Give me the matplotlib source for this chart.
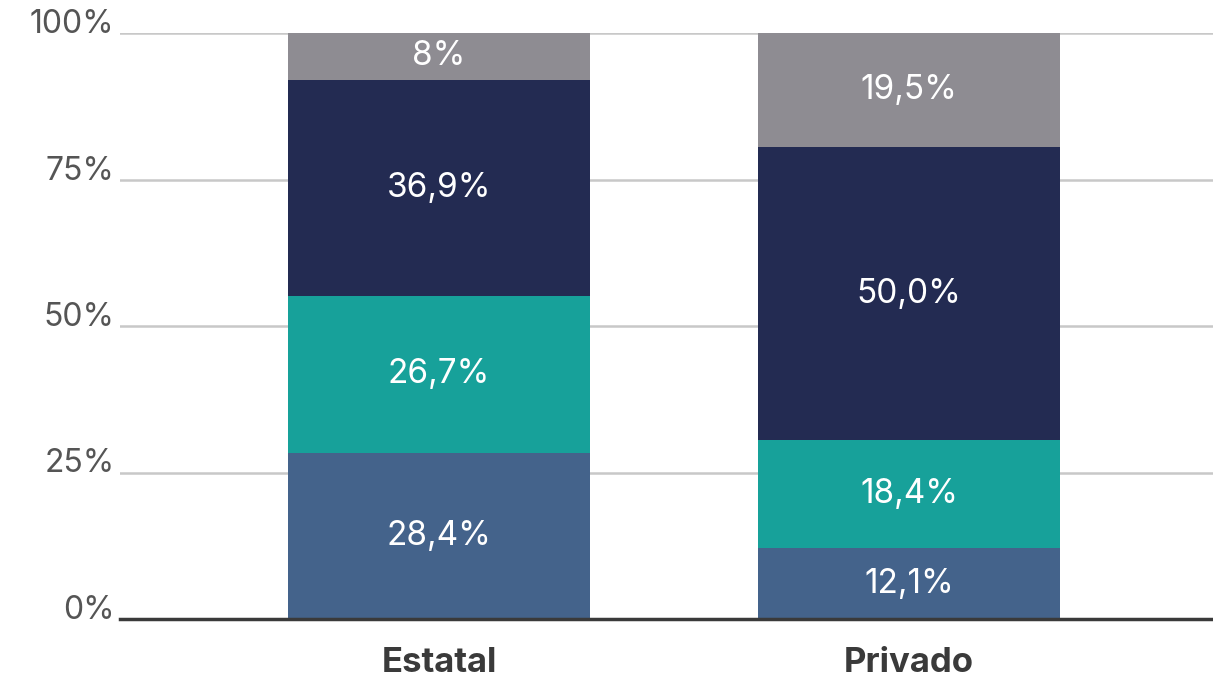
import matplotlib.pyplot as plt
import numpy as np

categories = ["Estatal", "Privado"]
seg_bottom = [28.4, 12.1]
seg_teal = [26.7, 18.4]
seg_navy = [36.9, 50.0]
seg_gray = [8.0, 19.5]
labels = [["28,4%", "12,1%"], ["26,7%", "18,4%"],
          ["36,9%", "50,0%"], ["8%", "19,5%"]]

colors = ["#44638b", "#17a19a", "#232b52", "#8e8c92"]

plt.rcParams['font.family'] = ['Inter', 'DejaVu Sans']

fig = plt.figure(figsize=(12.13, 6.77), dpi=100)
ax = fig.add_axes([120 / 1213, 58 / 677, 1 - 120 / 1213, (619 - 33) / 677])

x = np.arange(len(categories))
bottom = np.zeros(len(categories))
for vals, col, labs in zip([seg_bottom, seg_teal, seg_navy, seg_gray], colors, labels):
    vals = np.array(vals)
    ax.bar(x, vals, bottom=bottom, width=0.643, color=col, zorder=3)
    for xi, b, v, lab in zip(x, bottom, vals, labs):
        ax.text(xi, b + v / 2, lab, ha="center", va="center",
                color="white", fontsize=24, zorder=4)
    bottom += vals

ax.set_xlim(-0.679, 1.647)
ax.set_ylim(0, 100)
ax.set_yticks([0, 25, 50, 75, 100])
ax.set_yticklabels(["0%", "25%", "50%", "75%", "100%"])
ax.yaxis.grid(True, color="#c8c8c8", linewidth=1.8, zorder=0)
ax.tick_params(axis="y", length=0, pad=4, labelsize=23, labelcolor="#555555")
for lbl in ax.get_yticklabels():
    lbl.set_va("baseline")
ax.tick_params(axis="x", length=0, pad=20)
ax.set_xticks(x)
ax.set_xticklabels(categories, fontsize=25, fontweight="bold", color="#3a3a3a")
for s in ["top", "right", "left"]:
    ax.spines[s].set_visible(False)
ax.spines["bottom"].set_color("#3a3a3a")
ax.spines["bottom"].set_linewidth(2.5)
ax.spines["bottom"].set_zorder(5)

fig.savefig("out.png", dpi=100)
